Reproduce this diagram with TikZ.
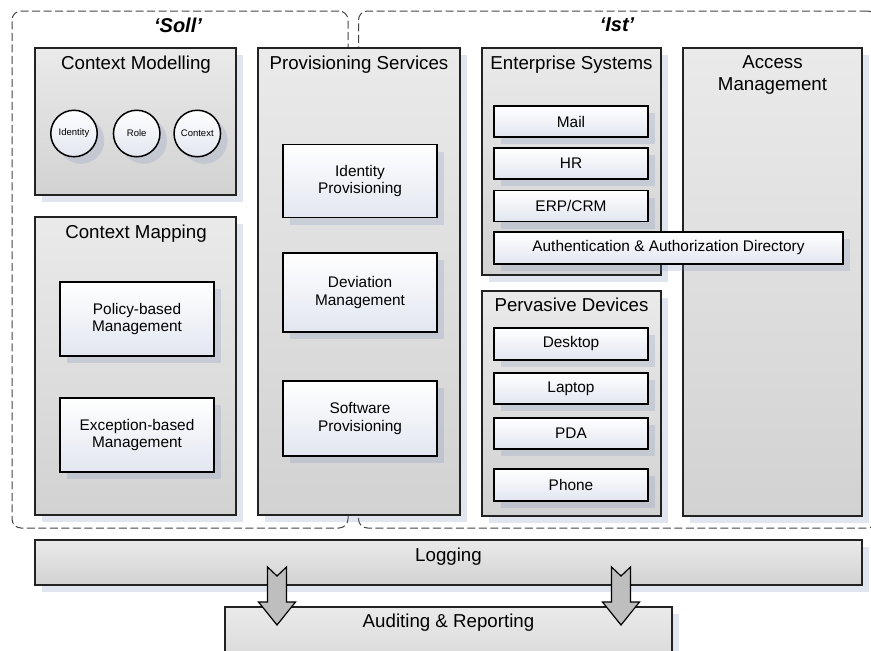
\documentclass[tikz,border=0pt]{standalone}
\usepackage{fontspec}
\setmainfont{Liberation Sans}
\usetikzlibrary{shadows}
\definecolor{shadowc}{RGB}{120,140,185}
\definecolor{boxtop}{RGB}{234,234,234}
\definecolor{boxbot}{RGB}{210,210,210}
\definecolor{innerbot}{RGB}{226,230,240}
\definecolor{dashc}{RGB}{70,70,70}
\definecolor{edgec}{RGB}{34,34,34}
\definecolor{arrowc}{RGB}{190,190,190}
\tikzset{
  myshadow/.style={drop shadow={shadow xshift=7pt, shadow yshift=-7pt, fill=shadowc, opacity=0.22}},
  outerbox/.style={draw=edgec, line width=1.3pt, top color=boxtop, bottom color=boxbot,
    anchor=north west, inner sep=0pt, outer sep=0pt, myshadow},
  innerbox/.style={draw=black, line width=1.8pt, top color=white, bottom color=innerbot,
    anchor=north west, inner sep=0pt, outer sep=0pt, align=center,
    font=\fontsize{15.4}{17.5}\selectfont, myshadow},
  entity/.style={circle, draw=black, line width=1.5pt, top color=white, bottom color=innerbot,
    minimum size=46.5pt, inner sep=0pt, font=\fontsize{9.5}{11}\selectfont, myshadow},
  boxtitle/.style={anchor=base, inner sep=0pt, font=\fontsize{18.7}{22}\selectfont, align=center},
  region/.style={draw=dashc, line width=1pt, dash pattern=on 8pt off 3.5pt, rounded corners=9pt,
    anchor=north west, inner sep=0pt, outer sep=0pt},
  regionlabel/.style={inner sep=0pt, font=\fontsize{20}{24}\bfseries\itshape\selectfont},
  blockarrow/.style={draw=black, line width=1.2pt, fill=arrowc, line join=miter},
}
\begin{document}
\begin{tikzpicture}[x=1pt, y=-1pt]
\clip (0,0) rectangle (871,651);
\fill[white] (0,0) rectangle (871,651);

% dashed regions
\node[region, minimum width=336pt, minimum height=517pt] (soll) at (12,11) {};
\node[region, minimum width=518pt, minimum height=517pt] (ist) at (358.5,11) {};
\node[regionlabel] (solllabel) at (178,25) {‘Soll’};
\node[regionlabel] (istlabel) at (617,25) {‘Ist’};

% Context Modelling
\node[outerbox, minimum width=201pt, minimum height=147pt] (cmod) at (35,48) {};
\node[boxtitle] (cmodt) at (136,69) {Context Modelling};
\node[entity] (identity) at (74,133.5) {Identity};
\node[entity] (role) at (136.7,133.5) {Role};
\node[entity] (context) at (197.3,133.5) {Context};

% Context Mapping
\node[outerbox, minimum width=201pt, minimum height=298pt] (cmap) at (35,217) {};
\node[boxtitle] (cmapt) at (136,238) {Context Mapping};
\node[innerbox, minimum width=154pt, minimum height=74pt] (policy) at (60,282) {Policy-based\\Management};
\node[innerbox, minimum width=154pt, minimum height=74pt] (exception) at (60,398) {Exception-based\\Management};

% Provisioning Services
\node[outerbox, minimum width=202pt, minimum height=467pt] (prov) at (258,48) {};
\node[boxtitle] (provt) at (359,69) {Provisioning Services};
\node[innerbox, minimum width=154pt, minimum height=73pt] (idprov) at (283,144.5) {Identity\\Provisioning};
\node[innerbox, minimum width=154pt, minimum height=79pt] (devman) at (283,253) {Deviation\\Management};
\node[innerbox, minimum width=154pt, minimum height=75pt] (swprov) at (283,381) {Software\\Provisioning};

% Access Management
\node[outerbox, minimum width=179pt, minimum height=468pt] (access) at (683,48) {};
\node[boxtitle, anchor=center] (accesst) at (772.5,75.3) {Access\\Management};

% Enterprise Systems
\node[outerbox, minimum width=179pt, minimum height=227pt] (ent) at (482,48) {};
\node[boxtitle] (entt) at (571.5,69) {Enterprise Systems};
\node[innerbox, minimum width=154pt, minimum height=31pt] (mail) at (494,106) {Mail};
\node[innerbox, minimum width=154pt, minimum height=31pt] (hr) at (494,148) {HR};
\node[innerbox, minimum width=154pt, minimum height=31pt] (erp) at (494,190.5) {ERP/CRM};
\node[innerbox, minimum width=349pt, minimum height=32pt] (auth) at (494,232) {Authentication \& Authorization Directory};

% Pervasive Devices
\node[outerbox, minimum width=179pt, minimum height=225pt] (perv) at (482,291) {};
\node[boxtitle] (pervt) at (571.5,311) {Pervasive Devices};
\node[innerbox, minimum width=154pt, minimum height=32pt] (desktop) at (494,328) {Desktop};
\node[innerbox, minimum width=154pt, minimum height=31pt] (laptop) at (494,373) {Laptop};
\node[innerbox, minimum width=154pt, minimum height=31pt] (pda) at (494,418) {PDA};
\node[innerbox, minimum width=154pt, minimum height=32pt] (phone) at (494,469) {Phone};

% Logging and Auditing
\node[outerbox, minimum width=827pt, minimum height=45pt] (logging) at (35,540) {};
\node[boxtitle] (loggingt) at (448.5,561) {Logging};
\node[outerbox, minimum width=447pt, minimum height=80pt] (audit) at (225,607) {};
\node[boxtitle] (auditt) at (448.5,627) {Auditing \& Reporting};

% block arrows from Logging to Auditing
\coordinate (a1) at (277,567);
\coordinate (a2) at (621,567);
\foreach \c in {a1,a2}{
  \draw[blockarrow, shift={(\c)}] (-9.5,0) -- (0,9) -- (9.5,0) -- (9.5,35) -- (18.5,35)
     -- (0,58) -- (-18.5,35) -- (-9.5,35) -- cycle;
}
\end{tikzpicture}
\end{document}
